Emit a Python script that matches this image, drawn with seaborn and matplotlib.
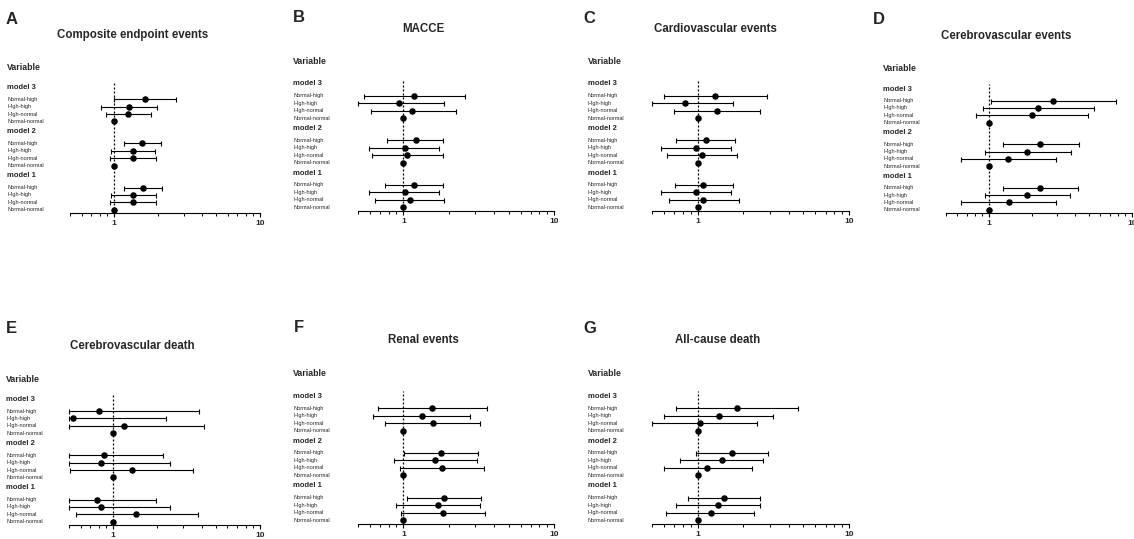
import numpy as np
import pandas as pd
import matplotlib.pyplot as plt
import matplotlib.transforms as mtransforms
from matplotlib.ticker import FixedLocator, NullFormatter
import seaborn as sns

# --- datos ---
rows = ['Normal-high', 'High-high', 'High-normal', 'Normal-normal']
models = ['model 3', 'model 2', 'model 1']
letters = ['A', 'B', 'C', 'D', 'E', 'F', 'G']
titles = ['Composite endpoint events', 'MACCE', 'Cardiovascular events',
          'Cerebrovascular events', 'Cerebrovascular death', 'Renal events',
          'All-cause death']

# orden: model 3 (NH, HH, HN), model 2 (NH, HH, HN), model 1 (NH, HH, HN)
a_hr = [1.63, 1.26, 1.25, 1.56, 1.34, 1.34, 1.57, 1.36, 1.36]
a_lo = [1.00, 0.81, 0.88, 1.17, 0.95, 0.94, 1.17, 0.96, 0.94]
a_hi = [2.68, 1.97, 1.80, 2.11, 1.91, 1.95, 2.12, 1.93, 1.94]

b_hr = [1.17, 0.94, 1.15, 1.21, 1.02, 1.06, 1.17, 1.02, 1.10]
b_lo = [0.545, 0.50, 0.61, 0.775, 0.594, 0.62, 0.76, 0.59, 0.65]
b_hi = [2.57, 1.87, 2.24, 1.84, 1.72, 1.82, 1.84, 1.72, 1.86]

c_hr = [1.30, 0.83, 1.34, 1.13, 0.97, 1.07, 1.09, 0.97, 1.09]
c_lo = [0.60, 0.50, 0.70, 0.72, 0.57, 0.63, 0.71, 0.57, 0.65]
c_hi = [2.86, 1.71, 2.59, 1.78, 1.66, 1.82, 1.72, 1.66, 1.88]

d_hr = [2.80, 2.20, 2.00, 2.29, 1.85, 1.36, 2.26, 1.85, 1.37]
d_lo = [1.03, 0.905, 0.81, 1.25, 0.93, 0.64, 1.25, 0.93, 0.64]
d_hi = [7.74, 5.39, 4.96, 4.26, 3.74, 2.92, 4.19, 3.70, 2.93]

e_hr = [0.80, 0.535, 1.18, 0.87, 0.83, 1.34, 0.78, 0.83, 1.44]
e_lo = [0.50, 0.50, 0.50, 0.50, 0.50, 0.51, 0.50, 0.50, 0.56]
e_hi = [3.84, 2.30, 4.18, 2.19, 2.43, 3.49, 1.96, 2.43, 3.78]

f_hr = [1.54, 1.32, 1.57, 1.78, 1.62, 1.80, 1.87, 1.70, 1.83]
f_lo = [0.675, 0.63, 0.76, 1.01, 0.87, 0.95, 1.06, 0.90, 0.965]
f_hi = [3.58, 2.79, 3.25, 3.15, 3.10, 3.44, 3.29, 3.22, 3.47]

g_hr = [1.83, 1.38, 1.04, 1.68, 1.44, 1.16, 1.50, 1.37, 1.22]
g_lo = [0.725, 0.60, 0.50, 0.975, 0.76, 0.60, 0.87, 0.725, 0.616]
g_hi = [4.63, 3.13, 2.46, 2.92, 2.71, 2.28, 2.58, 2.57, 2.37]

panels = [(a_hr, a_lo, a_hi), (b_hr, b_lo, b_hi), (c_hr, c_lo, c_hi),
          (d_hr, d_lo, d_hi), (e_hr, e_lo, e_hi), (f_hr, f_lo, f_hi),
          (g_hr, g_lo, g_hi)]

# --- posiciones de cada panel (pixeles de la figura) ---
W, H = 1134, 539
layout = {
    'A': dict(x0=70, x1=260, r0=99.3, r15=209.7, base=213.3, tx=133, ty=35, vy=68, lx=6, ly=20, lab=7),
    'B': dict(x0=358, x1=554, r0=95.7, r15=207.3, base=211, tx=423, ty=28.7, vy=61, lx=293, ly=18, lab=293),
    'C': dict(x0=652, x1=849, r0=95.7, r15=207.3, base=210.7, tx=715, ty=28.7, vy=61.7, lx=583, ly=18.3, lab=588),
    'D': dict(x0=946, x1=1132, r0=100.7, r15=209.7, base=213.3, tx=1006, ty=35.7, vy=68.3, lx=873, ly=20, lab=883),
    'E': dict(x0=69, x1=260, r0=411, r15=521.7, base=525, tx=132, ty=346, vy=379, lx=6, ly=328.3, lab=6.3),
    'F': dict(x0=358, x1=554, r0=408.3, r15=520, base=523.7, tx=423, ty=340, vy=373.3, lx=294, ly=327.3, lab=293),
    'G': dict(x0=652, x1=849, r0=408.3, r15=520, base=523.7, tx=718, ty=340, vy=374, lx=583, ly=328.3, lab=588),
}

sns.set_theme(style="white")
plt.rcParams['font.family'] = ['Liberation Sans', 'DejaVu Sans']

fig = plt.figure(figsize=(W / 100, H / 100), dpi=100)

for letter, title, (hr, lo, hi) in zip(letters, titles, panels):
    L = layout[letter]
    sp = (L['r15'] - L['r0']) / 15.0
    top_row = -2.3
    top_px = L['r0'] + top_row * sp
    ax = fig.add_axes([L['x0'] / W, 1 - L['base'] / H,
                       (L['x1'] - L['x0']) / W, (L['base'] - top_px) / H])

    # tabla larga: cada modelo con la referencia Normal-normal = 1
    recs = []
    for b, m in enumerate(models):
        for r, name in enumerate(rows):
            if r < 3:
                i = b * 3 + r
                recs.append((m, name, 6 * b + r, hr[i], lo[i], hi[i]))
            else:
                recs.append((m, name, 6 * b + r, 1.0, 1.0, 1.0))
    df = pd.DataFrame(recs, columns=['model', 'group', 'row', 'hr', 'lo', 'hi'])

    ax.errorbar(df['hr'], df['row'], xerr=[df['hr'] - df['lo'], df['hi'] - df['hr']],
                fmt='none', ecolor='black', elinewidth=0.8, capsize=1.8,
                capthick=0.8, clip_on=False, zorder=2)
    sns.scatterplot(data=df, x='hr', y='row', ax=ax, color='black', s=22,
                    linewidth=0, legend=False, zorder=3, clip_on=False)
    ax.axvline(1, color='black', lw=0.9, ls=(0, (1.6, 1.6)), zorder=1)

    ax.set_xscale('log')
    ax.set_xlim(0.5, 10)
    ax.set_ylim(15 + (L['base'] - L['r15']) / sp, top_row)
    ax.set_xlabel('')
    ax.set_ylabel('')
    ax.set_yticks([])
    for s in ['left', 'top', 'right']:
        ax.spines[s].set_visible(False)
    ax.spines['bottom'].set_linewidth(0.8)
    ax.spines['bottom'].set_color('black')
    ax.xaxis.set_major_locator(FixedLocator([1, 10]))
    ax.set_xticklabels(['1', '10'], fontsize=6, fontweight='bold')
    ax.xaxis.set_minor_locator(FixedLocator([0.5, 0.6, 0.7, 0.8, 0.9, 2, 3, 4, 5, 6, 7, 8, 9]))
    ax.xaxis.set_minor_formatter(NullFormatter())
    ax.tick_params(axis='x', which='major', direction='out', length=3, width=0.8,
                   color='black', pad=2, bottom=True)
    ax.tick_params(axis='x', which='minor', direction='out', length=2, width=0.7,
                   color='black', bottom=True)
    ax.patch.set_alpha(0)

    # textos de la izquierda
    tr = mtransforms.blended_transform_factory(fig.transFigure, ax.transData)
    for b, m in enumerate(models):
        ax.text(L['lab'] / W, 6 * b - 1.6, m, transform=tr, fontsize=5.5,
                fontweight='bold', ha='left', va='center', clip_on=False)
        for r, name in enumerate(rows):
            ax.text(L['lab'] / W, 6 * b + r, name, transform=tr, fontsize=4,
                    ha='left', va='center', clip_on=False)

    fig.text(L['lab'] / W, 1 - L['vy'] / H, 'Variable', fontsize=6.3,
             fontweight='bold', ha='left', va='center')
    fig.text(L['tx'] / W, 1 - L['ty'] / H, title, fontsize=8.3,
             fontweight='bold', ha='center', va='center')
    fig.text(L['lx'] / W, 1 - L['ly'] / H, letter, fontsize=12,
             fontweight='bold', ha='left', va='center')

fig.savefig('out.png', dpi=100)
